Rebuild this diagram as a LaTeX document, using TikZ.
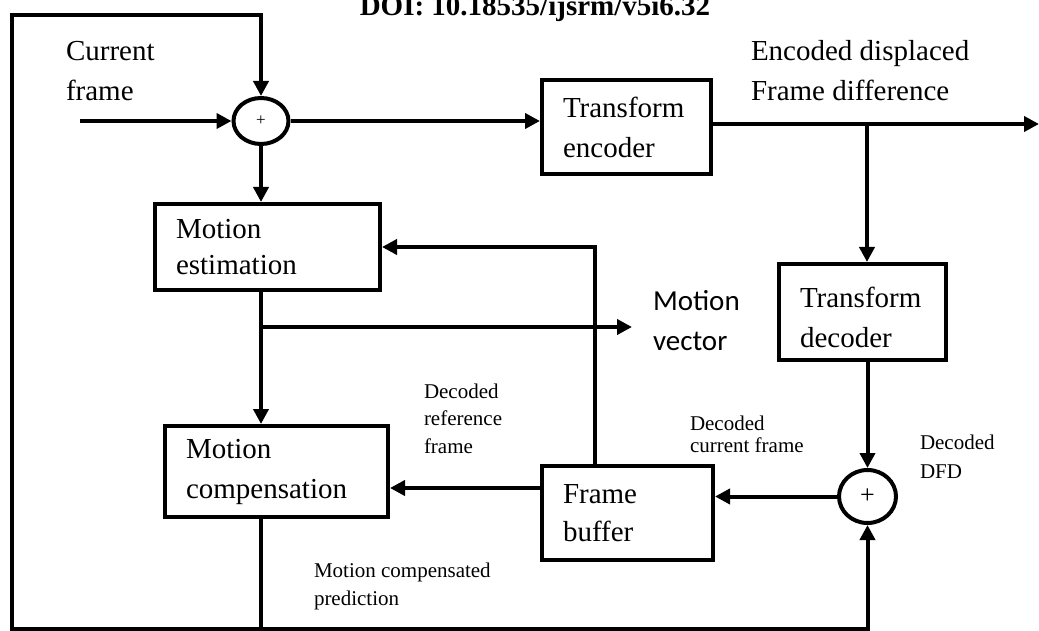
\documentclass[tikz,border=0pt]{standalone}
\usepackage{fontspec}
\setmainfont{Liberation Serif}
\newfontfamily\mvfont{Carlito}
\usetikzlibrary{arrows.meta,shapes.geometric}

\begin{document}
\begin{tikzpicture}[x=1pt,y=-1pt,line width=4pt,line join=miter,
  >={Triangle[length=15pt,width=15pt]},
  blk/.style={draw,rectangle,align=left,inner xsep=21pt,inner ysep=0pt,
    font=\fontsize{29}{40}\selectfont},
  adder/.style={draw,ellipse,inner sep=0pt},
  lbl/.style={align=left,inner sep=0pt,anchor=north west,font=\fontsize{29}{40}\selectfont},
  note/.style={align=left,inner sep=0pt,anchor=north west}]
  \useasboundingbox (0,0) rectangle (1039,631);
  \clip (0,0) rectangle (1039,631);

  \node[inner sep=0pt,anchor=base,font=\fontsize{29}{29}\selectfont\bfseries] (doi) at (535,16) {DOI: 10.18535/ijsrm/v5i6.32};

  \node[adder,minimum width=55pt,minimum height=46pt,font=\fontsize{17}{17}\selectfont] (sumA) at (261,121) {+};
  \node[blk,text width=127pt,minimum height=94pt] (enc) at (626.5,127) {\rule{0pt}{22pt}Transform\\encoder};
  \node[blk,text width=183pt,minimum height=86pt,font=\fontsize{29}{36}\selectfont] (me) at (267.5,247) {Motion\\estimation};
  \node[blk,text width=125pt,minimum height=96pt] (dec) at (862.5,312) {\rule{0pt}{32pt}Transform\\decoder};
  \node[blk,text width=181pt,minimum height=91pt] (mc) at (276.5,471.5) {Motion\\compensation};
  \node[blk,text width=129pt,minimum height=94pt,font=\fontsize{29}{38}\selectfont] (fb) at (627.5,513) {Frame\\buffer};
  \node[adder,minimum width=57pt,minimum height=53pt,font=\fontsize{26}{26}\selectfont] (sumB) at (867.5,496.5) {+};

  \coordinate (in) at (80,121);
  \coordinate (out) at (1039,124);
  \coordinate (br) at (867,124);
  \coordinate (mv) at (632,327);
  \coordinate (tl) at (12,15);
  \coordinate (bl) at (12,629);

  \node[lbl] (cur) at (64,39.5) {Current\\frame};
  \node[lbl] (edfd) at (749,38) {Encoded displaced\\Frame difference};
  \node[lbl,font=\fontsize{29}{40}\mvfont] (mvl) at (651,288) {Motion\\vector};
  \node[note,font=\fontsize{21}{27.5}\selectfont] (dref) at (422,381.7) {Decoded\\reference\\frame};
  \node[note,font=\fontsize{21}{22}\selectfont] (dcur) at (688,413.7) {Decoded\\current frame};
  \node[note,font=\fontsize{21}{29}\selectfont] (ddfd) at (918,432.7) {Decoded\\DFD};
  \node[note,font=\fontsize{21}{28}\selectfont] (mcp) at (312,560.7) {Motion compensated\\prediction};

  \path[->] (in) edge (sumA.west);
  \path[->] (sumA.east) edge (sumA.east -| enc.west);
  \path[->] (enc.east |- out) edge (out);
  \path[->] (br) edge (br |- dec.north);
  \path[->] (sumB |- dec.south) edge (sumB.north);
  \path[->] (sumB.west) edge (sumB.west -| fb.east);
  \path[->] ([yshift=25pt]fb.west) edge ([yshift=25pt]fb.west -| mc.east);
  \draw[->] ([xshift=-32.5pt]fb.north) |- (me.east);
  \path[->] (sumA.south) edge (sumA |- me.north);
  \path[->] (sumA |- me.south) edge (sumA |- mc.north);
  \path[->] (sumA |- mv) edge (mv);
  \draw (sumA |- mc.south) -- (sumA |- bl);
  \draw[<->] (sumA.north) |- (tl) -- (bl) -| (sumB.south);

\end{tikzpicture}
\end{document}
